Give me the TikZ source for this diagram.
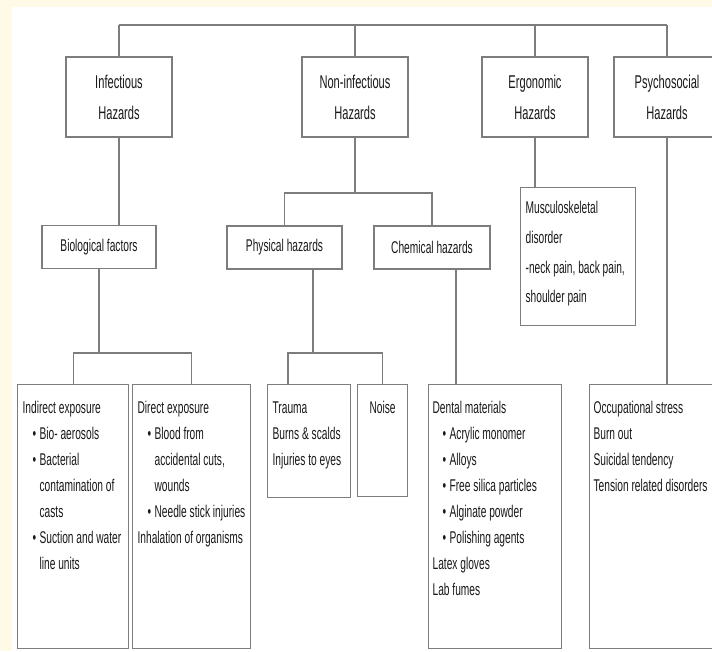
\documentclass[tikz,border=0pt]{standalone}
\usepackage{fontspec}
\setmainfont{Liberation Sans}[FakeStretch=0.6]
\usepackage{tikz}
\usetikzlibrary{positioning, calc}

\definecolor{pagebg}{RGB}{255,250,231}
\definecolor{linegray}{RGB}{125,125,125}
\definecolor{ink}{RGB}{25,25,25}

\newcommand{\topfont}{\fontsize{18.5}{31}\selectfont}
\newcommand{\boxfont}{\fontsize{17}{26}\selectfont}
\newcommand{\bulletline}[1]{\hspace*{10pt}\makebox[7pt][l]{\textbullet}\mbox{#1}}
\newcommand{\wrapline}[1]{\hspace*{17pt}\mbox{#1}}

\begin{document}
\begin{tikzpicture}[x=1pt, y=-1pt,
  every node/.style={text=ink},
  link/.style={draw=linegray, line width=1.2pt},
  hazard/.style={rectangle, draw=linegray, line width=1.2pt, fill=white,
                 minimum width=106pt, minimum height=80pt, align=center,
                 font=\topfont},
  factor/.style={rectangle, draw=linegray, line width=1.2pt, fill=white,
                 minimum height=43pt, font=\boxfont},
  listbox/.style={rectangle, draw=linegray, line width=1.2pt, fill=white,
                  anchor=north west, align=flush left, inner xsep=5pt, inner ysep=0pt,
                  text height=29pt, font=\boxfont}
]

  \useasboundingbox (0,0) rectangle (712,651);
  \clip (0,0) rectangle (712,651);
  \fill[pagebg] (0,0) rectangle (712,651);
  \fill[white] (12,7) rectangle (712,651);

  % main groups
  \node[hazard] (inf) at (119,97) {Infectious\\Hazards};
  \node[hazard] (non) at (355,97) {Non-infectious\\Hazards};
  \node[hazard] (erg) at (535,97) {Ergonomic\\Hazards};
  \node[hazard] (psy) at (667,97) {Psychosocial\\Hazards};
  \coordinate (bus) at (0,25);

  % second level
  \node[factor, minimum width=114pt] (bio)  at (99,247)    {Biological factors};
  \node[factor, minimum width=115pt] (phy)  at (284.5,247.5) {Physical hazards};
  \node[factor, minimum width=116pt] (chem) at (432,247.5) {Chemical hazards};
  \node[listbox, text width=105pt, text height=26pt, text depth=112pt,
        font={\fontsize{17}{29.7}\selectfont}] (msk) at (520,187)
    {Musculoskeletal\\disorder\\\mbox{-neck pain, back pain,}\\\mbox{shoulder pain}};

  % lists
  \node[listbox, text width=101pt, text depth=235pt] (ind) at (17,384)
    {\mbox{Indirect exposure}\\\bulletline{Bio- aerosols}\\\bulletline{Bacterial}\\
     \wrapline{contamination of}\\\wrapline{casts}\\
     \bulletline{Suction and water}\\\wrapline{line units}};
  \node[listbox, text width=108pt, text depth=235pt] (dir) at (132,384)
    {\mbox{Direct exposure}\\\bulletline{Blood from}\\\wrapline{accidental cuts,}\\
     \wrapline{wounds}\\\bulletline{Needle stick injuries}\\
     \mbox{Inhalation of organisms}};
  \node[listbox, text width=73pt, text depth=84pt] (tra) at (267,384)
    {Trauma\\\mbox{Burns \& scalds}\\\mbox{Injuries to eyes}};
  \node[listbox, text width=40pt, text depth=83pt, align=center] (noi) at (357,384)
    {Noise};
  \node[listbox, text width=125pt, text depth=235pt, inner xsep=4pt] (den) at (428,384)
    {\mbox{Dental materials}\\\bulletline{Acrylic monomer}\\\bulletline{Alloys}\\
     \bulletline{Free silica particles}\\\bulletline{Alginate powder}\\
     \bulletline{Polishing agents}\\\mbox{Latex gloves}\\\mbox{Lab fumes}};
  \node[listbox, text width=132pt, text depth=235pt, inner xsep=4pt] (occ) at (589,384)
    {\mbox{Occupational stress}\\\mbox{Burn out}\\\mbox{Suicidal tendency}\\
     \mbox{Tension related disorders}};

  % connectors
  \foreach \n in {inf, non, erg, psy}{
    \draw[link] (\n.north) -- (\n.north |- bus);
  }
  \draw[link] (inf.north |- bus) -- (psy.north |- bus);

  \coordinate (nfork) at (355,193);
  \draw[link] (non.south) -- (nfork);
  \draw[link] (phy.north) |- (nfork) -| (chem.north);

  \draw[link] (inf.south) -- (inf.south |- bio.north);
  \draw[link] (erg.south) -- (erg.south |- msk.north);
  \draw[link] (psy.south) -- (psy.south |- occ.north);

  \coordinate (bfork) at (98,353);
  \draw[link] (bio.south) -- (bio.south |- bfork);
  \draw[link] (ind.north) |- (bfork) -| (dir.north);

  \coordinate (pfork) at (313,353);
  \coordinate (tdrop) at ([xshift=21pt]tra.north west);
  \draw[link] (pfork |- phy.south) -- (pfork);
  \draw[link] (tdrop) |- (pfork) -| (noi.north);

  \coordinate (cdrop) at ([xshift=24pt]chem.south);
  \draw[link] (cdrop) -- (cdrop |- den.north);

\end{tikzpicture}
\end{document}
